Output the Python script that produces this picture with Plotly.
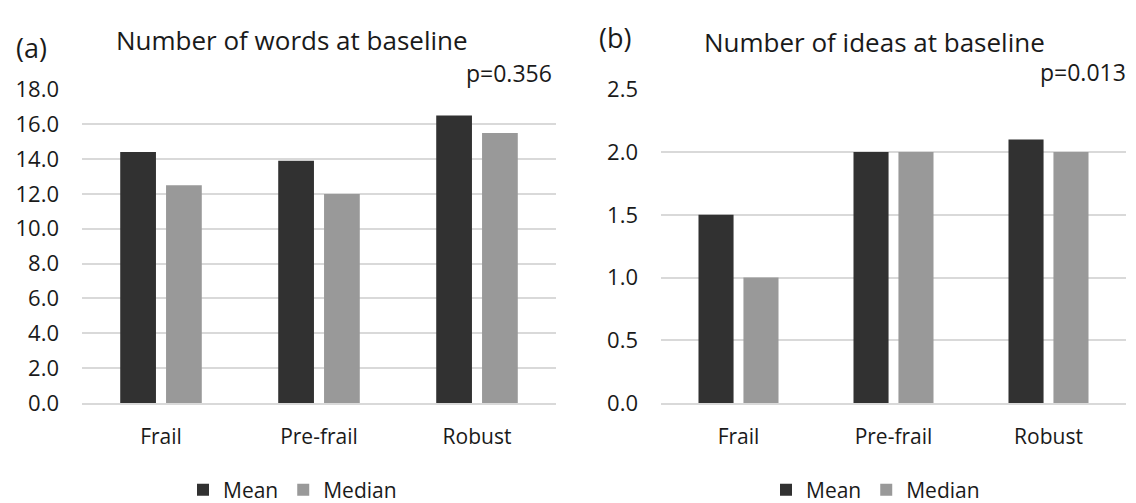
import plotly.graph_objects as go

categories = ["Frail", "Pre-frail", "Robust"]
words_mean = [14.4, 13.9, 16.5]
words_median = [12.5, 12.0, 15.5]
ideas_mean = [1.5, 2.0, 2.1]
ideas_median = [1.0, 2.0, 2.0]
words_ticks = [0, 2, 4, 6, 8, 10, 12, 14, 16, 18]
ideas_ticks = [0, 0.5, 1.0, 1.5, 2.0, 2.5]

DARK = "#313131"
LIGHT = "#999999"
GRID = "#d9d9d9"
FONT = "Open Sans"
TXT = "#1a1a1a"

W, H = 1136, 503

def px_x(v):
    return v / W

def px_y(v):
    return (H - v) / H

fig = go.Figure()
fig.add_trace(go.Bar(x=categories, y=words_mean, name="Mean", marker_color=DARK,
                     marker_line_width=0, xaxis="x", yaxis="y", legend="legend"))
fig.add_trace(go.Bar(x=categories, y=words_median, name="Median", marker_color=LIGHT,
                     marker_line_width=0, xaxis="x", yaxis="y", legend="legend"))
fig.add_trace(go.Bar(x=categories, y=ideas_mean, name="Mean", marker_color=DARK,
                     marker_line_width=0, xaxis="x2", yaxis="y2", legend="legend2"))
fig.add_trace(go.Bar(x=categories, y=ideas_median, name="Median", marker_color=LIGHT,
                     marker_line_width=0, xaxis="x2", yaxis="y2", legend="legend2"))

ydom = [px_y(403), px_y(83)]
xcommon = dict(showline=True, linecolor=GRID, linewidth=2, showgrid=False,
               ticks="", tickfont=dict(family=FONT, size=21, color=TXT),
               ticklabelstandoff=14, fixedrange=True, automargin=False)
ycommon = dict(showline=False, showgrid=True, gridcolor=GRID, gridwidth=2,
               zeroline=False, ticks="", tickformat=".1f",
               tickfont=dict(family=FONT, size=22, color=TXT),
               ticklabelstandoff=22, fixedrange=True, automargin=False)

fig.update_layout(
    template="none",
    width=W, height=H,
    margin=dict(l=0, r=0, t=0, b=0),
    paper_bgcolor="white", plot_bgcolor="white",
    barmode="group", bargap=0.42, bargroupgap=0.22,
    xaxis=dict(domain=[px_x(74), px_x(548)], anchor="y", **xcommon),
    yaxis=dict(domain=ydom, anchor="x", range=[0, 18], tickvals=words_ticks, **ycommon),
    xaxis2=dict(domain=[px_x(653), px_x(1118)], anchor="y2", **xcommon),
    yaxis2=dict(domain=ydom, anchor="x2", range=[0, 2.5], tickvals=ideas_ticks, **ycommon),
    legend=dict(orientation="h", x=px_x(175), y=px_y(492), xanchor="left", yanchor="middle",
                font=dict(family=FONT, size=21, color=TXT), bgcolor="rgba(0,0,0,0)"),
    legend2=dict(orientation="h", x=px_x(758), y=px_y(492), xanchor="left", yanchor="middle",
                 font=dict(family=FONT, size=21, color=TXT), bgcolor="rgba(0,0,0,0)"),
    showlegend=True,
)

def ann(text, x, y, xanchor, size):
    fig.add_annotation(text=text, x=px_x(x), y=px_y(y), xref="paper", yref="paper",
                       xanchor=xanchor, yanchor="middle", showarrow=False,
                       font=dict(family=FONT, size=size, color=TXT))

ann("(a)", 6, 40, "left", 27)
ann("Number of words at baseline", 106, 33, "left", 26)
ann("p=0.356", 546, 66, "right", 23)
ann("(b)", 589, 30, "left", 27)
ann("Number of ideas at baseline", 694, 35, "left", 26)
ann("p=0.013", 1120, 65, "right", 23)

fig.write_html("out.html")
